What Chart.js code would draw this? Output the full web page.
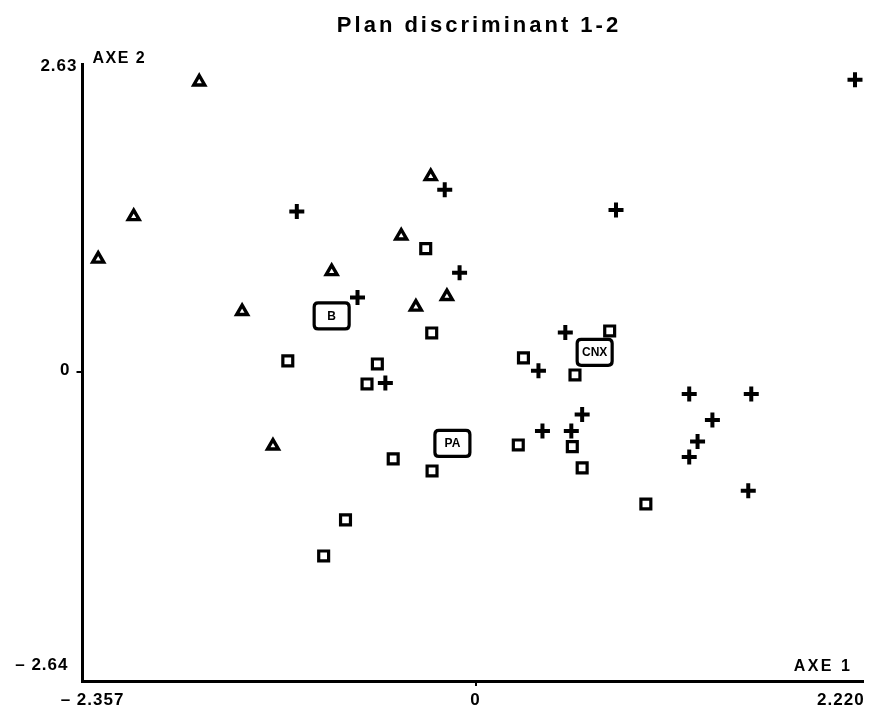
<!DOCTYPE html>
<html>
<head>
<meta charset="utf-8">
<script src="https://cdn.jsdelivr.net/npm/chart.js@4"></script>
<style>
  html, body { margin: 0; padding: 0; background: #fff; }
  #wrap { width: 874px; height: 711px; }
</style>
</head>
<body>
<div id="wrap"><canvas id="c" width="874" height="711"></canvas></div>
<script>
// ---------- data ----------
const titleText = 'Plan discriminant 1-2';
const axisNameX = 'AXE 1';
const axisNameY = 'AXE 2';

const xTickValues = [-2.357, 0, 2.220];
const xTickLabels = ['– 2.357', '0', '2.220'];
const yTickValues = [2.63, 0, -2.64];
const yTickLabels = ['2.63', '0', '– 2.64'];

const xAxisMin = -2.357;
const xAxisMax = 2.32;
const yAxisMin = -2.64;
const yAxisMax = 2.63;

// triangles
const triX = [-1.657, -2.050, -2.263, -1.400, -0.863, -1.215, -0.269, -0.446, -0.358, -0.172];
const triY = [ 2.478,  1.328,  0.965,  0.517,  0.858, -0.632,  1.669,  1.162,  0.555,  0.645];

// squares
const sqX = [-0.299, -0.263, -1.126, -0.589, -0.651, -0.494, -0.261, -0.780, -0.911, 0.287, 0.596, 0.804, 0.256, 0.580, 0.639, 1.021];
const sqY = [ 1.053,  0.333,  0.094,  0.068, -0.103, -0.743, -0.846, -1.264, -1.572, 0.120, -0.026, 0.350, -0.624, -0.638, -0.820, -1.128];

// crosses
const crossX = [2.275, -1.072, -0.185, -0.096, -0.708, -0.541, 0.842, 0.538, 0.377, 0.639, 0.401, 0.574, 1.281, 1.653, 1.420, 1.331, 1.281, 1.635];
const crossY = [2.495,  1.370,  1.555,  0.848,  0.636, -0.094, 1.384, 0.336, 0.009, -0.363, -0.504, -0.504, -0.188, -0.188, -0.410, -0.595, -0.726, -1.014];

// group centres
const groupLabels = ['B', 'PA', 'CNX'];
const groupX = [-0.863, -0.139, 0.714];
const groupY = [ 0.478, -0.611, 0.167];

// ---------- chart ----------
const FONT = '"Liberation Sans", Arial, Helvetica, sans-serif';
const toPts = (xs, ys) => xs.map((x, i) => ({ x: x, y: ys[i] }));

function roundRectPath(ctx, x, y, w, h, r) {
  ctx.beginPath();
  ctx.moveTo(x + r, y);
  ctx.lineTo(x + w - r, y);
  ctx.quadraticCurveTo(x + w, y, x + w, y + r);
  ctx.lineTo(x + w, y + h - r);
  ctx.quadraticCurveTo(x + w, y + h, x + w - r, y + h);
  ctx.lineTo(x + r, y + h);
  ctx.quadraticCurveTo(x, y + h, x, y + h - r);
  ctx.lineTo(x, y + r);
  ctx.quadraticCurveTo(x, y, x + r, y);
  ctx.closePath();
}

const annotations = {
  id: 'annotations',
  afterDatasetsDraw(chart) {
    const { ctx } = chart;
    const meta = chart.getDatasetMeta(3);
    ctx.save();
    meta.data.forEach((pt, i) => {
      const w = 35, h = 26;
      roundRectPath(ctx, pt.x - w / 2, pt.y - h / 2, w, h, 4);
      ctx.fillStyle = '#fff';
      ctx.fill();
      ctx.lineWidth = 3.2;
      ctx.strokeStyle = '#000';
      ctx.stroke();
      ctx.fillStyle = '#000';
      ctx.font = 'bold 12px ' + FONT;
      ctx.textAlign = 'center';
      ctx.textBaseline = 'middle';
      ctx.fillText(groupLabels[i], pt.x, pt.y + 0.5);
    });
    ctx.restore();
  },
  afterDraw(chart) {
    const { ctx, chartArea } = chart;
    const xs = chart.scales.x, ys = chart.scales.y;
    ctx.save();
    ctx.fillStyle = '#000';
    const setSpacing = (v) => { if ('letterSpacing' in ctx) ctx.letterSpacing = v; };

    // title
    ctx.font = 'bold 22px ' + FONT;
    setSpacing('3px');
    ctx.textAlign = 'center';
    ctx.textBaseline = 'alphabetic';
    ctx.fillText(titleText, 479, 32);

    // y tick labels
    ctx.font = 'bold 17px ' + FONT;
    setSpacing('1px');
    ctx.textAlign = 'right';
    ctx.textBaseline = 'middle';
    const yDx = [-5, -12, -14];
    const yDy = [2.5, -2, -16];
    yTickValues.forEach((v, i) => {
      ctx.fillText(yTickLabels[i], chartArea.left + yDx[i], ys.getPixelForValue(v) + yDy[i]);
    });

    // x tick labels
    ctx.textAlign = 'center';
    const xDx = [10, 0, -5];
    xTickValues.forEach((v, i) => {
      ctx.fillText(xTickLabels[i], xs.getPixelForValue(v) + xDx[i], chartArea.bottom + 19);
    });

    // axis names
    ctx.font = 'bold 16px ' + FONT;
    setSpacing('1.5px');
    ctx.textAlign = 'left';
    ctx.fillText(axisNameY, chartArea.left + 10, 59);
    ctx.textAlign = 'center';
    setSpacing('2.5px');
    ctx.fillText(axisNameX, 823, chartArea.bottom - 14);
    setSpacing('0px');
    ctx.restore();
  }
};

new Chart(document.getElementById('c'), {
  type: 'scatter',
  data: {
    datasets: [
      {
        label: 'triangles',
        data: toPts(triX, triY),
        pointStyle: 'triangle',
        pointRadius: 6.3,
        pointBorderWidth: 3.4,
        pointBackgroundColor: '#fff',
        pointBorderColor: '#000',
        clip: false
      },
      {
        label: 'squares',
        data: toPts(sqX, sqY),
        pointStyle: 'rect',
        pointRadius: 7,
        pointBorderWidth: 3.2,
        pointBackgroundColor: '#fff',
        pointBorderColor: '#000',
        clip: false
      },
      {
        label: 'crosses',
        data: toPts(crossX, crossY),
        pointStyle: 'cross',
        pointRadius: 7.5,
        pointBorderWidth: 4,
        pointBackgroundColor: '#000',
        pointBorderColor: '#000',
        clip: false
      },
      {
        label: 'centres',
        data: toPts(groupX, groupY),
        pointRadius: 0,
        pointHoverRadius: 0,
        clip: false
      }
    ]
  },
  options: {
    responsive: false,
    animation: false,
    events: [],
    layout: { padding: { left: 76.5, right: 7, top: 64, bottom: 25 } },
    plugins: {
      legend: { display: false },
      tooltip: { enabled: false },
      title: { display: false }
    },
    scales: {
      x: {
        type: 'linear',
        position: 'bottom',
        min: xAxisMin,
        max: xAxisMax,
        afterBuildTicks: (s) => { s.ticks = [{ value: 0 }]; },
        ticks: { display: false },
        grid: { display: true, drawOnChartArea: false, drawTicks: true, tickLength: 5, color: '#000', lineWidth: 2 },
        border: { display: true, color: '#000', width: 3 }
      },
      y: {
        type: 'linear',
        position: 'left',
        min: yAxisMin,
        max: yAxisMax,
        afterBuildTicks: (s) => { s.ticks = [{ value: 0 }]; },
        ticks: { display: false },
        grid: { display: true, drawOnChartArea: false, drawTicks: true, tickLength: 6, color: '#000', lineWidth: 2 },
        border: { display: true, color: '#000', width: 3 }
      }
    }
  },
  plugins: [annotations]
});
</script>
</body>
</html>
